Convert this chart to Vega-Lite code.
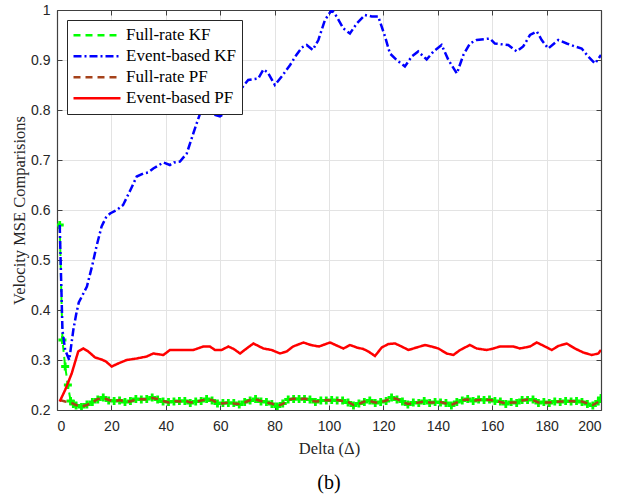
{
  "$schema": "https://vega.github.io/schema/vega-lite/v6.json",
  "width": 544,
  "height": 400,
  "autosize": {"type": "none"},
  "padding": {"left": 57, "top": 10, "right": 38, "bottom": 88},
  "background": "white",
  "config": {
    "view": {"stroke": null},
    "axis": {
      "labelFont": "Liberation Sans",
      "labelFontSize": 14,
      "labelColor": "#262626",
      "titleFont": "Liberation Serif",
      "titleFontSize": 16.5,
      "titleFontWeight": "normal",
      "titleColor": "#262626",
      "domainColor": "#404040",
      "tickColor": "#404040",
      "gridColor": "#e3e3e3",
      "gridWidth": 1
    }
  },
  "title": {
    "text": "(b)",
    "orient": "bottom",
    "font": "Liberation Serif",
    "fontSize": 20,
    "fontWeight": "normal",
    "color": "black",
    "offset": 16
  },
  "data": {
    "values": [
      {"s":"Full-rate KF","x":1,"y":0.57},{"s":"Full-rate KF","x":2,"y":0.34},{"s":"Full-rate KF","x":3,"y":0.287},{"s":"Full-rate KF","x":4,"y":0.25},{"s":"Full-rate KF","x":5,"y":0.218},{"s":"Full-rate KF","x":6,"y":0.212},{"s":"Full-rate KF","x":7,"y":0.209},{"s":"Full-rate KF","x":9,"y":0.206},{"s":"Full-rate KF","x":11,"y":0.211},{"s":"Full-rate KF","x":13,"y":0.216},{"s":"Full-rate KF","x":15,"y":0.221},{"s":"Full-rate KF","x":17,"y":0.225},{"s":"Full-rate KF","x":19,"y":0.219},{"s":"Full-rate KF","x":21,"y":0.218},{"s":"Full-rate KF","x":23,"y":0.219},{"s":"Full-rate KF","x":25,"y":0.216},{"s":"Full-rate KF","x":27,"y":0.218},{"s":"Full-rate KF","x":29,"y":0.222},{"s":"Full-rate KF","x":31,"y":0.221},{"s":"Full-rate KF","x":33,"y":0.222},{"s":"Full-rate KF","x":35,"y":0.225},{"s":"Full-rate KF","x":37,"y":0.221},{"s":"Full-rate KF","x":39,"y":0.217},{"s":"Full-rate KF","x":41,"y":0.216},{"s":"Full-rate KF","x":43,"y":0.217},{"s":"Full-rate KF","x":45,"y":0.218},{"s":"Full-rate KF","x":47,"y":0.218},{"s":"Full-rate KF","x":49,"y":0.214},{"s":"Full-rate KF","x":51,"y":0.217},{"s":"Full-rate KF","x":53,"y":0.218},{"s":"Full-rate KF","x":55,"y":0.222},{"s":"Full-rate KF","x":57,"y":0.219},{"s":"Full-rate KF","x":59,"y":0.213},{"s":"Full-rate KF","x":61,"y":0.214},{"s":"Full-rate KF","x":63,"y":0.214},{"s":"Full-rate KF","x":65,"y":0.214},{"s":"Full-rate KF","x":67,"y":0.211},{"s":"Full-rate KF","x":69,"y":0.216},{"s":"Full-rate KF","x":71,"y":0.219},{"s":"Full-rate KF","x":73,"y":0.222},{"s":"Full-rate KF","x":75,"y":0.217},{"s":"Full-rate KF","x":77,"y":0.216},{"s":"Full-rate KF","x":79,"y":0.212},{"s":"Full-rate KF","x":81,"y":0.207},{"s":"Full-rate KF","x":83,"y":0.213},{"s":"Full-rate KF","x":85,"y":0.221},{"s":"Full-rate KF","x":87,"y":0.222},{"s":"Full-rate KF","x":89,"y":0.222},{"s":"Full-rate KF","x":91,"y":0.222},{"s":"Full-rate KF","x":93,"y":0.221},{"s":"Full-rate KF","x":95,"y":0.216},{"s":"Full-rate KF","x":97,"y":0.219},{"s":"Full-rate KF","x":99,"y":0.219},{"s":"Full-rate KF","x":101,"y":0.22},{"s":"Full-rate KF","x":103,"y":0.219},{"s":"Full-rate KF","x":105,"y":0.219},{"s":"Full-rate KF","x":107,"y":0.215},{"s":"Full-rate KF","x":109,"y":0.209},{"s":"Full-rate KF","x":111,"y":0.213},{"s":"Full-rate KF","x":113,"y":0.216},{"s":"Full-rate KF","x":115,"y":0.219},{"s":"Full-rate KF","x":117,"y":0.214},{"s":"Full-rate KF","x":119,"y":0.216},{"s":"Full-rate KF","x":121,"y":0.218},{"s":"Full-rate KF","x":123,"y":0.225},{"s":"Full-rate KF","x":125,"y":0.221},{"s":"Full-rate KF","x":127,"y":0.217},{"s":"Full-rate KF","x":129,"y":0.211},{"s":"Full-rate KF","x":131,"y":0.215},{"s":"Full-rate KF","x":133,"y":0.214},{"s":"Full-rate KF","x":135,"y":0.218},{"s":"Full-rate KF","x":137,"y":0.214},{"s":"Full-rate KF","x":139,"y":0.216},{"s":"Full-rate KF","x":141,"y":0.215},{"s":"Full-rate KF","x":143,"y":0.214},{"s":"Full-rate KF","x":145,"y":0.209},{"s":"Full-rate KF","x":147,"y":0.216},{"s":"Full-rate KF","x":149,"y":0.219},{"s":"Full-rate KF","x":151,"y":0.222},{"s":"Full-rate KF","x":153,"y":0.218},{"s":"Full-rate KF","x":155,"y":0.221},{"s":"Full-rate KF","x":157,"y":0.22},{"s":"Full-rate KF","x":159,"y":0.221},{"s":"Full-rate KF","x":161,"y":0.218},{"s":"Full-rate KF","x":163,"y":0.217},{"s":"Full-rate KF","x":165,"y":0.212},{"s":"Full-rate KF","x":167,"y":0.216},{"s":"Full-rate KF","x":169,"y":0.214},{"s":"Full-rate KF","x":171,"y":0.22},{"s":"Full-rate KF","x":173,"y":0.22},{"s":"Full-rate KF","x":175,"y":0.221},{"s":"Full-rate KF","x":177,"y":0.214},{"s":"Full-rate KF","x":179,"y":0.216},{"s":"Full-rate KF","x":181,"y":0.214},{"s":"Full-rate KF","x":183,"y":0.217},{"s":"Full-rate KF","x":185,"y":0.216},{"s":"Full-rate KF","x":187,"y":0.218},{"s":"Full-rate KF","x":189,"y":0.217},{"s":"Full-rate KF","x":191,"y":0.218},{"s":"Full-rate KF","x":193,"y":0.216},{"s":"Full-rate KF","x":195,"y":0.212},{"s":"Full-rate KF","x":197,"y":0.209},{"s":"Full-rate KF","x":199,"y":0.217},{"s":"Full-rate KF","x":200,"y":0.224},

      {"s":"Event-based KF","x":1,"y":0.57},{"s":"Event-based KF","x":2,"y":0.36},{"s":"Event-based KF","x":3,"y":0.32},{"s":"Event-based KF","x":4.5,"y":0.3},{"s":"Event-based KF","x":6,"y":0.36},{"s":"Event-based KF","x":7,"y":0.39},{"s":"Event-based KF","x":8,"y":0.415},{"s":"Event-based KF","x":11,"y":0.447},{"s":"Event-based KF","x":13,"y":0.49},{"s":"Event-based KF","x":14.5,"y":0.527},{"s":"Event-based KF","x":16.4,"y":0.567},{"s":"Event-based KF","x":18,"y":0.585},{"s":"Event-based KF","x":19.5,"y":0.593},{"s":"Event-based KF","x":22,"y":0.6},{"s":"Event-based KF","x":24.3,"y":0.61},{"s":"Event-based KF","x":27,"y":0.64},{"s":"Event-based KF","x":29.3,"y":0.667},{"s":"Event-based KF","x":31.7,"y":0.673},{"s":"Event-based KF","x":33.5,"y":0.675},{"s":"Event-based KF","x":35.4,"y":0.683},{"s":"Event-based KF","x":39.1,"y":0.695},{"s":"Event-based KF","x":41.5,"y":0.69},{"s":"Event-based KF","x":43,"y":0.695},{"s":"Event-based KF","x":45.2,"y":0.697},{"s":"Event-based KF","x":47.7,"y":0.713},{"s":"Event-based KF","x":50.1,"y":0.753},{"s":"Event-based KF","x":52.6,"y":0.793},{"s":"Event-based KF","x":55,"y":0.813},{"s":"Event-based KF","x":58.1,"y":0.79},{"s":"Event-based KF","x":59.9,"y":0.787},{"s":"Event-based KF","x":63.6,"y":0.8},{"s":"Event-based KF","x":65.5,"y":0.82},{"s":"Event-based KF","x":67.3,"y":0.84},{"s":"Event-based KF","x":70.3,"y":0.86},{"s":"Event-based KF","x":74,"y":0.863},{"s":"Event-based KF","x":75.9,"y":0.881},{"s":"Event-based KF","x":77.5,"y":0.875},{"s":"Event-based KF","x":80.1,"y":0.85},{"s":"Event-based KF","x":82.6,"y":0.867},{"s":"Event-based KF","x":85.7,"y":0.89},{"s":"Event-based KF","x":88,"y":0.91},{"s":"Event-based KF","x":90,"y":0.925},{"s":"Event-based KF","x":91.8,"y":0.93},{"s":"Event-based KF","x":94,"y":0.92},{"s":"Event-based KF","x":96.1,"y":0.94},{"s":"Event-based KF","x":98.5,"y":0.98},{"s":"Event-based KF","x":101,"y":1.0},{"s":"Event-based KF","x":102.8,"y":0.987},{"s":"Event-based KF","x":105.3,"y":0.963},{"s":"Event-based KF","x":107.7,"y":0.953},{"s":"Event-based KF","x":110.2,"y":0.973},{"s":"Event-based KF","x":113.2,"y":0.99},{"s":"Event-based KF","x":115.7,"y":0.987},{"s":"Event-based KF","x":118.1,"y":0.987},{"s":"Event-based KF","x":120.6,"y":0.947},{"s":"Event-based KF","x":122.4,"y":0.913},{"s":"Event-based KF","x":124.9,"y":0.9},{"s":"Event-based KF","x":127.9,"y":0.887},{"s":"Event-based KF","x":130.4,"y":0.907},{"s":"Event-based KF","x":132.8,"y":0.917},{"s":"Event-based KF","x":135.9,"y":0.901},{"s":"Event-based KF","x":138.4,"y":0.917},{"s":"Event-based KF","x":141.4,"y":0.93},{"s":"Event-based KF","x":143.9,"y":0.9},{"s":"Event-based KF","x":147,"y":0.873},{"s":"Event-based KF","x":149.4,"y":0.91},{"s":"Event-based KF","x":151.8,"y":0.933},{"s":"Event-based KF","x":154.3,"y":0.94},{"s":"Event-based KF","x":159.2,"y":0.943},{"s":"Event-based KF","x":161,"y":0.933},{"s":"Event-based KF","x":165.9,"y":0.93},{"s":"Event-based KF","x":169,"y":0.917},{"s":"Event-based KF","x":171.4,"y":0.927},{"s":"Event-based KF","x":173.9,"y":0.95},{"s":"Event-based KF","x":176.4,"y":0.957},{"s":"Event-based KF","x":178.2,"y":0.94},{"s":"Event-based KF","x":180.6,"y":0.923},{"s":"Event-based KF","x":184.3,"y":0.94},{"s":"Event-based KF","x":187.4,"y":0.933},{"s":"Event-based KF","x":190.4,"y":0.927},{"s":"Event-based KF","x":192.9,"y":0.923},{"s":"Event-based KF","x":195.3,"y":0.907},{"s":"Event-based KF","x":197.8,"y":0.893},{"s":"Event-based KF","x":199.6,"y":0.907},{"s":"Event-based KF","x":200,"y":0.91},

      {"s":"Full-rate PF","x":1,"y":0.22},{"s":"Full-rate PF","x":3,"y":0.217},{"s":"Full-rate PF","x":5,"y":0.215},{"s":"Full-rate PF","x":7,"y":0.21},{"s":"Full-rate PF","x":9,"y":0.207},{"s":"Full-rate PF","x":11,"y":0.21},{"s":"Full-rate PF","x":13,"y":0.215},{"s":"Full-rate PF","x":15,"y":0.222},{"s":"Full-rate PF","x":17,"y":0.224},{"s":"Full-rate PF","x":19,"y":0.22},{"s":"Full-rate PF","x":21,"y":0.217},{"s":"Full-rate PF","x":23,"y":0.22},{"s":"Full-rate PF","x":25,"y":0.217},{"s":"Full-rate PF","x":27,"y":0.217},{"s":"Full-rate PF","x":29,"y":0.221},{"s":"Full-rate PF","x":31,"y":0.222},{"s":"Full-rate PF","x":33,"y":0.221},{"s":"Full-rate PF","x":35,"y":0.224},{"s":"Full-rate PF","x":37,"y":0.222},{"s":"Full-rate PF","x":39,"y":0.218},{"s":"Full-rate PF","x":41,"y":0.215},{"s":"Full-rate PF","x":43,"y":0.218},{"s":"Full-rate PF","x":45,"y":0.217},{"s":"Full-rate PF","x":47,"y":0.219},{"s":"Full-rate PF","x":49,"y":0.215},{"s":"Full-rate PF","x":51,"y":0.216},{"s":"Full-rate PF","x":53,"y":0.219},{"s":"Full-rate PF","x":55,"y":0.221},{"s":"Full-rate PF","x":57,"y":0.22},{"s":"Full-rate PF","x":59,"y":0.214},{"s":"Full-rate PF","x":61,"y":0.213},{"s":"Full-rate PF","x":63,"y":0.215},{"s":"Full-rate PF","x":65,"y":0.213},{"s":"Full-rate PF","x":67,"y":0.212},{"s":"Full-rate PF","x":69,"y":0.215},{"s":"Full-rate PF","x":71,"y":0.22},{"s":"Full-rate PF","x":73,"y":0.221},{"s":"Full-rate PF","x":75,"y":0.218},{"s":"Full-rate PF","x":77,"y":0.215},{"s":"Full-rate PF","x":79,"y":0.213},{"s":"Full-rate PF","x":81,"y":0.208},{"s":"Full-rate PF","x":83,"y":0.212},{"s":"Full-rate PF","x":85,"y":0.22},{"s":"Full-rate PF","x":87,"y":0.223},{"s":"Full-rate PF","x":89,"y":0.221},{"s":"Full-rate PF","x":91,"y":0.223},{"s":"Full-rate PF","x":93,"y":0.22},{"s":"Full-rate PF","x":95,"y":0.217},{"s":"Full-rate PF","x":97,"y":0.218},{"s":"Full-rate PF","x":99,"y":0.22},{"s":"Full-rate PF","x":101,"y":0.219},{"s":"Full-rate PF","x":103,"y":0.22},{"s":"Full-rate PF","x":105,"y":0.218},{"s":"Full-rate PF","x":107,"y":0.216},{"s":"Full-rate PF","x":109,"y":0.21},{"s":"Full-rate PF","x":111,"y":0.212},{"s":"Full-rate PF","x":113,"y":0.217},{"s":"Full-rate PF","x":115,"y":0.218},{"s":"Full-rate PF","x":117,"y":0.215},{"s":"Full-rate PF","x":119,"y":0.215},{"s":"Full-rate PF","x":121,"y":0.219},{"s":"Full-rate PF","x":123,"y":0.224},{"s":"Full-rate PF","x":125,"y":0.222},{"s":"Full-rate PF","x":127,"y":0.216},{"s":"Full-rate PF","x":129,"y":0.212},{"s":"Full-rate PF","x":131,"y":0.214},{"s":"Full-rate PF","x":133,"y":0.215},{"s":"Full-rate PF","x":135,"y":0.217},{"s":"Full-rate PF","x":137,"y":0.215},{"s":"Full-rate PF","x":139,"y":0.215},{"s":"Full-rate PF","x":141,"y":0.216},{"s":"Full-rate PF","x":143,"y":0.213},{"s":"Full-rate PF","x":145,"y":0.21},{"s":"Full-rate PF","x":147,"y":0.215},{"s":"Full-rate PF","x":149,"y":0.22},{"s":"Full-rate PF","x":151,"y":0.221},{"s":"Full-rate PF","x":153,"y":0.219},{"s":"Full-rate PF","x":155,"y":0.22},{"s":"Full-rate PF","x":157,"y":0.221},{"s":"Full-rate PF","x":159,"y":0.22},{"s":"Full-rate PF","x":161,"y":0.219},{"s":"Full-rate PF","x":163,"y":0.216},{"s":"Full-rate PF","x":165,"y":0.213},{"s":"Full-rate PF","x":167,"y":0.215},{"s":"Full-rate PF","x":169,"y":0.215},{"s":"Full-rate PF","x":171,"y":0.219},{"s":"Full-rate PF","x":173,"y":0.221},{"s":"Full-rate PF","x":175,"y":0.22},{"s":"Full-rate PF","x":177,"y":0.215},{"s":"Full-rate PF","x":179,"y":0.215},{"s":"Full-rate PF","x":181,"y":0.215},{"s":"Full-rate PF","x":183,"y":0.216},{"s":"Full-rate PF","x":185,"y":0.217},{"s":"Full-rate PF","x":187,"y":0.217},{"s":"Full-rate PF","x":189,"y":0.218},{"s":"Full-rate PF","x":191,"y":0.217},{"s":"Full-rate PF","x":193,"y":0.217},{"s":"Full-rate PF","x":195,"y":0.213},{"s":"Full-rate PF","x":197,"y":0.21},{"s":"Full-rate PF","x":199,"y":0.216},{"s":"Full-rate PF","x":200,"y":0.223},

      {"s":"Event-based PF","x":1,"y":0.217},{"s":"Event-based PF","x":3,"y":0.24},{"s":"Event-based PF","x":5.4,"y":0.273},{"s":"Event-based PF","x":7.8,"y":0.317},{"s":"Event-based PF","x":9.7,"y":0.323},{"s":"Event-based PF","x":11.5,"y":0.317},{"s":"Event-based PF","x":14,"y":0.305},{"s":"Event-based PF","x":16.4,"y":0.301},{"s":"Event-based PF","x":18,"y":0.297},{"s":"Event-based PF","x":20.1,"y":0.287},{"s":"Event-based PF","x":22.5,"y":0.293},{"s":"Event-based PF","x":25.6,"y":0.3},{"s":"Event-based PF","x":29.3,"y":0.303},{"s":"Event-based PF","x":33,"y":0.307},{"s":"Event-based PF","x":35.4,"y":0.313},{"s":"Event-based PF","x":39.1,"y":0.31},{"s":"Event-based PF","x":41.5,"y":0.32},{"s":"Event-based PF","x":45.2,"y":0.32},{"s":"Event-based PF","x":50.1,"y":0.32},{"s":"Event-based PF","x":53.8,"y":0.327},{"s":"Event-based PF","x":56.2,"y":0.327},{"s":"Event-based PF","x":58.1,"y":0.32},{"s":"Event-based PF","x":60.5,"y":0.32},{"s":"Event-based PF","x":63,"y":0.327},{"s":"Event-based PF","x":65,"y":0.322},{"s":"Event-based PF","x":67.3,"y":0.313},{"s":"Event-based PF","x":69.7,"y":0.323},{"s":"Event-based PF","x":72.2,"y":0.333},{"s":"Event-based PF","x":75.9,"y":0.323},{"s":"Event-based PF","x":78.9,"y":0.32},{"s":"Event-based PF","x":82,"y":0.313},{"s":"Event-based PF","x":84.4,"y":0.317},{"s":"Event-based PF","x":86.8,"y":0.327},{"s":"Event-based PF","x":90.6,"y":0.335},{"s":"Event-based PF","x":93.3,"y":0.33},{"s":"Event-based PF","x":96.3,"y":0.327},{"s":"Event-based PF","x":100.4,"y":0.335},{"s":"Event-based PF","x":102.8,"y":0.329},{"s":"Event-based PF","x":105.3,"y":0.323},{"s":"Event-based PF","x":107.7,"y":0.33},{"s":"Event-based PF","x":110.2,"y":0.325},{"s":"Event-based PF","x":112.6,"y":0.322},{"s":"Event-based PF","x":114.5,"y":0.317},{"s":"Event-based PF","x":116.9,"y":0.308},{"s":"Event-based PF","x":119.4,"y":0.325},{"s":"Event-based PF","x":121.8,"y":0.332},{"s":"Event-based PF","x":124.3,"y":0.333},{"s":"Event-based PF","x":126.7,"y":0.327},{"s":"Event-based PF","x":129.2,"y":0.32},{"s":"Event-based PF","x":132.2,"y":0.325},{"s":"Event-based PF","x":135.3,"y":0.33},{"s":"Event-based PF","x":137.7,"y":0.327},{"s":"Event-based PF","x":140.2,"y":0.323},{"s":"Event-based PF","x":143.3,"y":0.313},{"s":"Event-based PF","x":145.7,"y":0.31},{"s":"Event-based PF","x":148.2,"y":0.32},{"s":"Event-based PF","x":151.8,"y":0.33},{"s":"Event-based PF","x":154.3,"y":0.323},{"s":"Event-based PF","x":158,"y":0.32},{"s":"Event-based PF","x":160.4,"y":0.323},{"s":"Event-based PF","x":162.9,"y":0.327},{"s":"Event-based PF","x":167.8,"y":0.327},{"s":"Event-based PF","x":170.2,"y":0.323},{"s":"Event-based PF","x":173.9,"y":0.327},{"s":"Event-based PF","x":176.4,"y":0.335},{"s":"Event-based PF","x":179.4,"y":0.327},{"s":"Event-based PF","x":181.9,"y":0.32},{"s":"Event-based PF","x":184.3,"y":0.328},{"s":"Event-based PF","x":187.4,"y":0.333},{"s":"Event-based PF","x":190.4,"y":0.323},{"s":"Event-based PF","x":193.5,"y":0.315},{"s":"Event-based PF","x":196.6,"y":0.31},{"s":"Event-based PF","x":199,"y":0.313},{"s":"Event-based PF","x":200,"y":0.32}
    ]
  },
  "layer": [
    {
      "transform": [{"filter": "datum.s == 'Full-rate KF'"}],
      "mark": {"type": "line", "strokeWidth": 2, "clip": true},
      "encoding": {
        "x": {
          "field": "x", "type": "quantitative",
          "scale": {"domain": [0, 200], "nice": false},
          "axis": {"orient": "bottom", "title": "Delta (Δ)", "values": [0,20,40,60,80,100,120,140,160,180,200], "grid": true, "tickSize": -5, "labelPadding": 14, "titlePadding": 7, "domainWidth": 1.2}
        },
        "y": {
          "field": "y", "type": "quantitative",
          "scale": {"domain": [0.2, 1], "nice": false, "zero": false},
          "axis": {"orient": "left", "title": "Velocity MSE Comparisions", "values": [0.2,0.3,0.4,0.5,0.6,0.7,0.8,0.9,1], "format": "~g", "grid": true, "tickSize": -5, "labelPadding": 12, "titlePadding": 3, "domainWidth": 1.2}
        },
        "color": {
          "field": "s", "type": "nominal",
          "scale": {"domain": ["Full-rate KF", "Event-based KF", "Full-rate PF", "Event-based PF"], "range": ["#00ff00", "#0000ff", "#a5421a", "#ff0000"]},
          "legend": {
            "title": null, "orient": "none", "legendX": 10, "legendY": 10,
            "symbolType": "stroke", "symbolSize": 2209, "symbolStrokeWidth": 2.5,
            "labelFont": "Liberation Serif", "labelFontSize": 17, "labelColor": "black",
            "strokeColor": "#262626", "fillColor": "white", "padding": 5, "rowPadding": 0, "clipHeight": 20.5, "labelOffset": 4
          }
        },
        "strokeDash": {
          "field": "s", "type": "nominal",
          "scale": {"domain": ["Full-rate KF", "Event-based KF", "Full-rate PF", "Event-based PF"], "range": [[7, 5], [8, 3, 2, 3], [7, 5], [1, 0]]},
          "legend": {
            "title": null, "orient": "none", "legendX": 10, "legendY": 10,
            "symbolType": "stroke", "symbolSize": 2209, "symbolStrokeWidth": 2.5,
            "labelFont": "Liberation Serif", "labelFontSize": 17, "labelColor": "black",
            "strokeColor": "#262626", "fillColor": "white", "padding": 5, "rowPadding": 0, "clipHeight": 20.5, "labelOffset": 4
          }
        }
      }
    },
    {
      "transform": [{"filter": "datum.s == 'Full-rate KF'"}],
      "mark": {"type": "point", "shape": "M-1,0L1,0M0,-1L0,1", "filled": false, "stroke": "#00ff00", "strokeWidth": 2.8, "size": 64, "opacity": 1, "clip": true},
      "encoding": {
        "x": {"field": "x", "type": "quantitative", "axis": {"orient": "top", "title": null, "labels": false, "grid": false, "tickSize": -5, "values": [0,20,40,60,80,100,120,140,160,180,200], "domainWidth": 1.2}},
        "y": {"field": "y", "type": "quantitative", "axis": {"orient": "right", "title": null, "labels": false, "grid": false, "tickSize": -5, "values": [0.2,0.3,0.4,0.5,0.6,0.7,0.8,0.9,1], "domainWidth": 1.2}}
      }
    },
    {
      "transform": [{"filter": "datum.s != 'Full-rate KF'"}],
      "mark": {"type": "line", "strokeWidth": 2.5, "clip": true},
      "encoding": {
        "x": {"field": "x", "type": "quantitative", "axis": null},
        "y": {"field": "y", "type": "quantitative", "axis": null},
        "color": {"field": "s", "type": "nominal"},
        "strokeDash": {"field": "s", "type": "nominal"}
      }
    }
  ],
  "resolve": {"axis": {"x": "independent", "y": "independent"}}
}
